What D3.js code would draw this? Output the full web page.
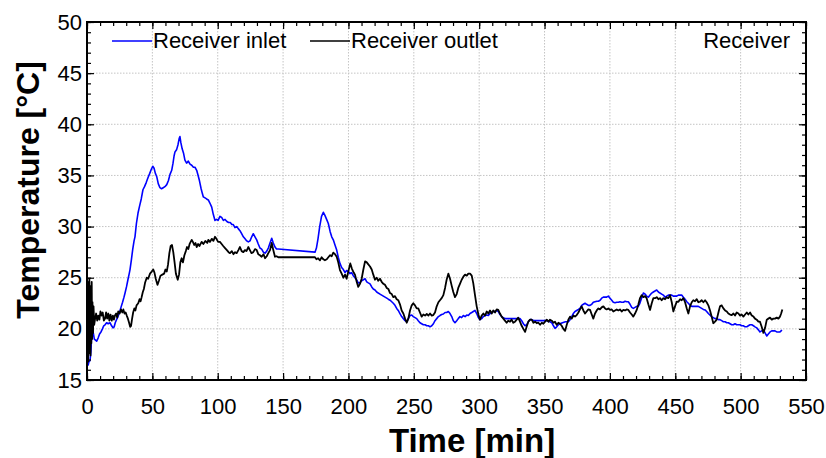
<!DOCTYPE html>
<html>
<head>
<meta charset="utf-8">
<script src="https://cdn.jsdelivr.net/npm/d3@7"></script>
<style>
  body { margin: 0; background: #fff; }
  text { font-family: Arial, "Liberation Sans", sans-serif; fill: #000; }
</style>
</head>
<body>
<svg id="chart" width="826" height="458"></svg>
<script>
// Axis ticks and labels
const xMajorTicks = [0, 50, 100, 150, 200, 250, 300, 350, 400, 450, 500, 550];
const yMajorTicks = [15, 20, 25, 30, 35, 40, 45, 50];
const xTitle = "Time [min]";
const yTitle = "Temperature [°C]";
const seriesNames = ["Receiver inlet", "Receiver outlet"];
const panelLabel = "Receiver";

// Receiver inlet temperature [min, °C]
const inlet = [
[0.8,16.4],[1.5,16.8],[2.3,16.9],[3.0,17.8],[3.6,19.5],[4.2,20.2],[4.8,19.6],[5.6,19.0],[6.5,18.9],[7.4,18.8],[8.5,19.1],[9.6,19.5],[10.7,19.7],[11.8,20.0],[12.8,20.3],[13.8,20.4],[15.0,20.6],[16.2,20.5],[17.6,20.6],[18.8,20.3],[19.9,20.1],[20.8,20.2],[21.6,20.6],[22.6,20.9],[23.7,21.2],[24.8,21.6],[26.0,22.1],[27.2,22.6],[28.3,23.1],[29.1,23.5],[30.2,24.1],[31.3,24.8],[32.3,25.4],[32.9,25.8],[34.0,26.8],[35.0,27.8],[36.0,28.6],[36.7,29.0],[37.8,30.3],[39.0,31.3],[40.2,32.0],[41.5,32.7],[42.8,33.6],[44.0,33.9],[45.3,34.3],[46.7,34.8],[48.0,35.2],[49.2,35.6],[50.3,35.9],[51.3,35.7],[52.3,35.2],[53.3,34.9],[54.5,34.2],[55.8,33.8],[57.0,33.7],[58.3,33.8],[59.6,33.9],[61.0,34.1],[62.3,34.5],[63.5,35.1],[64.8,35.5],[65.8,36.2],[66.6,36.9],[67.3,37.3],[68.5,37.5],[69.6,38.0],[70.5,38.6],[71.1,38.8],[71.8,38.2],[72.8,37.6],[73.8,37.2],[74.9,36.5],[76.2,36.2],[77.5,36.4],[78.8,36.1],[80.1,36.0],[81.4,35.8],[82.6,35.8],[83.9,35.5],[85.0,35.0],[86.0,34.5],[87.3,33.7],[88.3,33.2],[89.0,32.9],[90.3,32.8],[91.5,32.7],[92.8,32.6],[94.0,32.3],[95.4,31.9],[96.6,31.2],[97.9,30.6],[99.0,30.7],[100.3,30.6],[101.7,31.0],[103.0,30.9],[104.3,30.6],[105.6,30.7],[107.0,30.5],[108.3,30.4],[109.6,30.4],[110.8,30.2],[111.9,30.2],[113.2,29.9],[114.5,30.0],[115.7,29.8],[117.0,29.6],[118.3,29.3],[119.6,29.0],[120.9,28.8],[122.2,28.6],[123.4,28.5],[124.7,28.6],[126.0,29.0],[127.2,29.3],[128.5,29.0],[129.8,28.7],[131.0,28.3],[132.3,27.9],[133.6,27.8],[134.9,27.5],[136.2,27.4],[137.5,27.6],[138.7,27.9],[140.0,28.4],[141.3,28.85],[142.5,28.4],[143.8,28.0],[145.0,27.8],[146.3,27.8],[174.4,27.5],[175.5,27.9],[176.7,28.8],[178.0,30.0],[179.4,31.0],[180.8,31.4],[182.0,31.1],[183.3,30.7],[184.6,30.3],[186.0,29.5],[187.2,29.0],[188.4,28.7],[189.7,28.2],[191.0,27.7],[192.2,27.0],[193.5,26.4],[194.8,26.0],[196.1,25.8],[197.4,25.5],[198.6,25.7],[199.9,25.6],[201.2,25.4],[202.4,25.5],[203.7,25.2],[205.0,25.0],[206.2,24.8],[207.5,24.5],[208.8,24.5],[210.1,24.7],[211.4,24.8],[212.7,24.9],[214.0,24.6],[215.2,24.5],[216.5,24.4],[217.8,24.1],[219.0,23.9],[220.3,23.8],[221.6,23.6],[222.8,23.5],[224.1,23.4],[225.4,23.3],[226.7,23.2],[228.0,23.1],[229.3,23.0],[230.5,22.9],[231.8,22.8],[233.1,22.65],[234.3,22.5],[235.6,22.3],[236.9,22.0],[238.1,21.8],[239.4,21.5],[240.7,21.2],[242.0,21.0],[243.3,20.8],[244.6,20.7],[245.8,21.0],[247.1,21.3],[248.4,21.35],[249.6,21.2],[250.9,21.1],[252.2,21.0],[253.4,20.8],[254.7,20.6],[256.0,20.5],[257.3,20.4],[258.6,20.4],[259.9,20.3],[261.2,20.3],[262.4,20.2],[263.7,20.3],[265.0,20.5],[266.2,20.8],[267.5,21.0],[268.8,21.2],[270.0,21.3],[271.3,21.4],[272.6,21.45],[273.9,21.6],[275.1,21.6],[276.4,21.7],[277.7,21.5],[279.0,21.2],[280.2,20.8],[281.5,20.6],[282.8,20.8],[284.0,21.0],[285.3,21.2],[286.6,21.1],[287.9,21.3],[289.2,21.2],[290.5,21.35],[291.7,21.3],[293.0,21.5],[294.3,21.6],[295.5,21.7],[296.8,21.8],[298.1,21.5],[299.4,21.1],[300.6,20.9],[301.9,21.0],[303.2,21.2],[304.5,21.3],[305.8,21.35],[307.0,21.3],[308.3,21.5],[309.6,21.6],[310.8,21.7],[312.1,21.7],[313.4,21.8],[314.6,21.7],[315.9,21.4],[317.2,21.2],[318.5,21.1],[320.0,21.0],[322.3,21.0],[325.0,21.0],[327.4,21.0],[329.9,21.0],[331.2,21.0],[332.5,20.8],[333.8,20.5],[335.1,20.3],[336.3,20.4],[337.6,20.7],[338.9,20.9],[340.2,20.9],[342.0,20.8],[344.0,20.8],[346.0,20.8],[349.1,20.8],[351.7,20.8],[354.2,20.7],[355.5,20.6],[356.8,20.3],[358.0,20.05],[359.3,20.2],[360.6,20.4],[361.8,20.5],[363.7,20.6],[366.0,20.7],[368.2,20.7],[369.5,20.9],[370.8,21.2],[372.0,21.5],[373.3,21.7],[374.6,21.8],[375.9,21.9],[377.1,22.0],[378.4,22.3],[379.7,22.4],[381.0,22.5],[382.2,22.4],[383.5,22.3],[384.8,22.3],[386.1,22.4],[387.3,22.6],[388.6,22.65],[390.0,22.7],[391.2,22.7],[392.5,22.8],[393.7,23.0],[395.0,23.1],[396.3,23.1],[397.5,23.1],[398.8,23.2],[400.1,23.0],[401.4,22.8],[402.6,22.6],[403.9,22.55],[405.2,22.6],[406.5,22.6],[407.7,22.65],[409.0,22.6],[410.3,22.6],[411.6,22.7],[412.8,22.65],[414.1,22.65],[415.4,22.4],[416.7,22.1],[417.9,22.0],[419.2,22.1],[420.5,22.2],[421.7,22.2],[422.9,22.5],[424.2,23.0],[425.6,23.5],[426.9,23.4],[428.1,23.2],[429.4,23.1],[430.7,23.3],[432.0,23.5],[433.2,23.6],[434.5,23.7],[435.8,23.8],[437.1,23.6],[438.3,23.5],[439.6,23.4],[440.9,23.3],[442.2,23.1],[443.4,23.2],[444.7,23.3],[446.0,23.3],[447.3,23.3],[448.5,23.2],[449.8,23.2],[451.1,23.2],[452.4,23.3],[453.7,23.3],[454.9,23.3],[456.2,23.1],[457.5,22.9],[458.8,22.65],[460.0,22.5],[461.3,22.3],[462.6,22.2],[463.8,22.2],[465.1,22.2],[466.4,22.2],[467.6,22.2],[468.9,22.1],[470.2,22.0],[471.5,21.9],[472.8,21.85],[474.0,21.7],[475.3,21.5],[476.6,21.35],[477.8,21.2],[479.1,21.1],[480.4,21.0],[481.7,21.0],[483.0,20.9],[484.2,20.9],[485.5,20.8],[486.8,20.7],[488.1,20.7],[489.4,20.6],[490.6,20.6],[491.9,20.5],[493.2,20.4],[494.4,20.4],[495.7,20.5],[497.0,20.4],[498.3,20.4],[499.5,20.4],[500.8,20.3],[502.1,20.3],[503.4,20.2],[504.7,20.2],[505.9,20.3],[507.2,20.4],[508.5,20.4],[509.8,20.3],[511.0,20.2],[512.3,20.1],[513.6,19.9],[514.8,19.7],[516.1,19.8],[517.4,19.9],[518.7,19.6],[520.0,19.3],[521.2,19.5],[522.5,19.7],[523.8,19.8],[525.0,19.8],[526.3,19.8],[527.6,19.7],[528.9,19.7],[530.1,19.7],[531.0,19.8],[531.5,19.9]
];

// Receiver outlet temperature [min, °C]
const outlet = [
[0.3,17.0],[0.6,24.6],[0.9,16.8],[1.2,23.8],[1.5,17.6],[1.8,24.9],[2.1,18.2],[2.4,24.2],[2.7,17.4],[3.0,23.0],[3.3,18.6],[3.6,24.6],[3.9,19.0],[4.2,22.6],[4.6,19.6],[5.0,22.2],[5.5,20.4],[6.1,20.9],[7.0,21.5],[7.8,20.8],[8.6,21.3],[9.5,20.9],[10.3,21.7],[11.2,21.3],[12.0,21.6],[12.9,20.8],[13.8,21.0],[14.6,21.6],[15.4,21.0],[16.3,21.5],[17.1,20.8],[18.0,21.4],[18.9,20.8],[19.8,21.3],[20.6,20.9],[21.4,21.3],[22.3,21.5],[23.1,21.1],[23.9,21.7],[25.0,21.5],[26.0,21.9],[27.0,21.6],[27.8,21.9],[28.7,21.5],[29.6,21.6],[30.4,21.3],[31.3,21.0],[32.2,20.6],[33.0,20.2],[33.7,20.3],[34.5,21.0],[35.3,21.6],[36.2,22.0],[37.0,21.8],[37.9,22.3],[39.2,22.5],[40.2,22.9],[41.0,22.7],[41.8,23.1],[42.7,23.6],[43.5,23.9],[44.4,24.5],[45.7,25.0],[46.8,24.9],[48.2,25.4],[49.5,25.6],[50.7,25.8],[51.6,25.5],[52.6,24.9],[53.9,24.3],[55.0,24.7],[56.2,25.2],[57.6,25.3],[59.0,25.4],[60.0,25.8],[61.0,25.6],[62.0,26.3],[63.0,27.4],[64.0,28.1],[65.0,28.2],[66.0,27.5],[67.0,26.5],[68.0,25.4],[69.4,24.8],[70.4,25.3],[71.4,26.5],[72.4,26.9],[73.4,26.5],[74.5,27.2],[75.6,27.6],[76.5,28.0],[77.5,27.8],[78.5,28.3],[80.1,28.7],[81.0,28.5],[82.0,28.2],[83.0,28.4],[83.9,28.0],[85.0,28.3],[86.0,28.1],[87.7,28.5],[89.0,28.3],[90.5,28.6],[92.0,28.4],[92.8,28.7],[94.0,28.5],[95.5,28.8],[96.7,28.6],[97.9,29.0],[99.0,28.8],[100.3,28.5],[101.7,28.5],[103.0,28.3],[104.2,28.1],[105.6,27.9],[107.0,27.7],[108.3,27.5],[109.4,27.4],[110.8,27.6],[112.0,27.3],[113.3,27.5],[114.5,27.4],[115.8,27.7],[117.0,28.0],[118.3,27.6],[119.6,27.5],[120.8,27.7],[122.0,27.6],[123.4,28.0],[124.6,27.7],[125.8,27.4],[127.2,27.5],[128.5,27.8],[129.8,27.7],[131.0,27.3],[132.3,27.2],[133.6,27.05],[135.0,27.3],[136.2,26.9],[137.5,27.1],[138.7,27.4],[140.0,27.7],[141.3,28.4],[142.5,27.7],[143.8,27.05],[145.0,27.1],[146.3,27.0],[174.4,27.0],[175.5,26.8],[176.8,26.9],[178.2,26.7],[179.5,27.0],[180.8,26.8],[182.0,26.7],[183.4,26.8],[184.6,27.0],[186.0,27.2],[187.2,27.1],[188.4,27.45],[189.7,27.3],[191.0,27.05],[192.2,26.5],[193.5,25.75],[194.8,25.4],[196.1,25.0],[197.4,25.3],[198.6,24.9],[199.9,25.6],[201.4,26.4],[202.6,25.9],[204.0,25.5],[205.0,25.3],[206.3,24.6],[207.5,24.1],[208.8,24.4],[210.1,24.9],[211.4,25.8],[212.7,26.6],[214.0,26.5],[215.2,26.3],[216.5,26.1],[217.8,25.8],[219.0,25.3],[220.3,24.8],[221.6,25.0],[222.8,24.7],[224.1,24.9],[225.4,24.6],[226.7,24.4],[228.0,24.3],[229.3,24.0],[230.5,23.9],[231.8,23.5],[233.1,23.4],[234.3,23.1],[235.6,23.2],[236.9,22.9],[238.1,22.8],[239.4,22.4],[240.7,21.8],[242.0,21.5],[243.3,21.0],[244.6,20.6],[245.8,21.0],[247.1,21.8],[248.4,22.3],[249.6,22.5],[250.9,22.3],[252.2,22.0],[253.4,22.0],[254.7,21.6],[256.0,21.2],[257.3,21.4],[258.6,21.3],[259.9,21.45],[261.2,21.3],[262.4,21.5],[263.7,21.3],[264.9,21.35],[266.2,21.6],[267.5,22.2],[268.8,22.6],[270.0,22.8],[271.3,23.0],[272.6,23.3],[273.9,24.0],[275.1,24.8],[276.4,25.4],[277.7,24.9],[279.0,24.2],[280.2,23.6],[281.5,23.1],[282.8,23.4],[284.0,24.0],[285.3,24.4],[286.6,24.8],[287.9,25.1],[289.2,25.3],[290.5,25.2],[291.7,25.4],[293.0,25.4],[294.3,25.2],[295.5,24.45],[296.8,23.3],[298.1,22.2],[299.4,21.4],[300.6,20.9],[301.9,21.3],[303.2,21.5],[304.5,21.3],[305.8,21.7],[307.0,21.5],[308.3,21.8],[309.6,21.5],[310.8,21.8],[312.1,21.6],[313.4,21.9],[314.6,21.85],[315.9,21.5],[317.2,21.2],[318.5,21.0],[319.7,20.8],[321.0,20.6],[322.3,20.8],[323.6,20.7],[324.8,20.9],[326.1,20.6],[327.4,20.7],[328.7,20.9],[329.9,21.1],[331.2,20.7],[332.5,20.3],[333.8,20.0],[335.1,19.7],[336.3,20.2],[337.6,20.7],[338.9,20.9],[340.2,20.9],[341.5,20.6],[342.8,20.7],[344.0,20.55],[345.3,20.6],[346.6,20.4],[347.9,20.6],[349.1,20.5],[350.4,20.7],[351.7,20.9],[353.0,20.7],[354.2,20.9],[355.5,20.8],[356.8,20.6],[358.0,20.7],[359.3,20.4],[360.6,20.6],[361.8,20.5],[363.1,20.3],[364.4,20.0],[365.7,19.8],[367.0,20.4],[368.2,20.9],[369.5,21.2],[370.8,21.0],[372.1,21.3],[373.3,21.2],[374.6,21.35],[375.9,21.6],[377.1,21.9],[378.4,22.2],[379.7,21.8],[381.0,21.5],[382.2,21.7],[383.5,21.9],[384.8,21.85],[386.1,21.4],[387.3,21.0],[388.6,21.5],[389.9,21.8],[391.2,22.0],[392.4,21.9],[393.7,22.1],[395.0,22.2],[396.3,22.0],[397.5,21.9],[398.8,22.0],[400.1,21.85],[401.4,21.9],[402.6,21.7],[403.9,21.8],[405.2,21.9],[406.5,21.8],[407.7,21.9],[409.0,21.7],[410.3,21.85],[411.6,21.8],[412.8,21.9],[414.1,21.85],[415.4,21.6],[416.7,21.4],[417.9,21.2],[419.2,21.5],[420.5,21.85],[421.8,22.4],[423.0,23.0],[424.3,23.3],[425.6,23.1],[426.9,23.2],[428.1,23.0],[429.4,22.4],[430.7,21.85],[432.0,22.5],[433.2,23.0],[434.5,23.0],[435.8,23.1],[437.1,22.9],[438.3,23.0],[439.6,22.8],[440.9,23.0],[442.2,22.9],[443.4,23.1],[444.7,23.0],[446.0,23.3],[447.3,22.6],[448.5,21.7],[449.8,22.2],[451.1,22.65],[452.4,22.65],[453.7,22.9],[454.9,22.8],[456.2,23.0],[457.5,22.6],[458.8,22.0],[460.0,21.5],[461.3,22.2],[462.6,22.6],[463.8,22.8],[465.1,22.7],[466.4,22.9],[467.7,22.6],[468.9,22.65],[470.2,22.8],[471.5,22.6],[472.8,22.8],[474.0,22.6],[475.3,22.3],[476.6,21.8],[477.8,21.2],[479.1,20.55],[480.4,20.7],[481.7,20.9],[483.0,21.6],[484.2,22.2],[485.5,22.3],[486.8,22.0],[488.1,21.8],[489.4,21.7],[490.6,21.5],[491.9,21.4],[493.2,21.35],[494.5,21.5],[495.7,21.3],[497.0,21.6],[498.3,21.5],[499.6,21.3],[500.8,21.4],[502.1,21.2],[503.4,21.4],[504.7,21.6],[505.9,21.4],[507.2,21.6],[508.5,21.3],[509.8,21.2],[511.0,21.0],[512.3,20.9],[513.6,20.7],[514.8,20.7],[516.1,20.2],[517.4,19.6],[518.7,20.1],[520.0,20.9],[521.2,21.0],[522.5,21.1],[523.8,20.9],[525.0,21.0],[526.3,21.0],[527.6,21.1],[528.9,21.0],[530.1,21.2],[531.0,21.5],[531.9,21.9]
];

const seriesColors = ["#0000ff", "#000000"];

const svg = d3.select("#chart");
const plot = { left: 87, top: 22, right: 806, bottom: 380 };

const x = d3.scaleLinear().domain([0, 550]).range([plot.left, plot.right]);
const y = d3.scaleLinear().domain([15, 50]).range([plot.bottom, plot.top]);

const xMinor = d3.range(0, 551, 10);
const yMinor = d3.range(15, 51, 1);

// Dotted grid at interior major ticks
const grid = svg.append("g").attr("stroke", "#c4c4c4").attr("stroke-width", 1).attr("stroke-dasharray", "1.5,1.5");
grid.selectAll("line.gx").data(xMajorTicks.slice(1, -1)).join("line")
  .attr("x1", d => x(d)).attr("x2", d => x(d))
  .attr("y1", plot.top).attr("y2", plot.bottom);
grid.selectAll("line.gy").data(yMajorTicks.slice(1, -1)).join("line")
  .attr("x1", plot.left).attr("x2", plot.right)
  .attr("y1", d => y(d)).attr("y2", d => y(d));

// Data lines
const line = d3.line().x(d => x(d[0])).y(d => y(d[1]));
svg.append("path").datum(inlet).attr("fill", "none")
  .attr("stroke", seriesColors[0]).attr("stroke-width", 1.6).attr("stroke-linejoin", "round").attr("d", line);
svg.append("path").datum(outlet).attr("fill", "none")
  .attr("stroke", seriesColors[1]).attr("stroke-width", 1.8).attr("stroke-linejoin", "round").attr("d", line);

// Axes with inward ticks on all four sides
function styleAxis(g) {
  g.select(".domain").remove();
  g.selectAll(".tick line").attr("stroke", "#000").attr("stroke-width", 1.2);
}
const fmt = d3.format("d");

svg.append("g").attr("transform", `translate(0,${plot.bottom})`)
  .call(d3.axisBottom(x).tickValues(xMinor).tickSize(-4).tickFormat(""))
  .call(styleAxis);
svg.append("g").attr("transform", `translate(0,${plot.bottom})`)
  .call(d3.axisBottom(x).tickValues(xMajorTicks).tickSize(-7).tickPadding(18).tickFormat(fmt))
  .call(styleAxis)
  .call(g => g.selectAll("text").attr("font-size", 22).attr("font-family", "Arial, 'Liberation Sans', sans-serif"));

svg.append("g").attr("transform", `translate(0,${plot.top})`)
  .call(d3.axisTop(x).tickValues(xMinor).tickSize(-4).tickFormat(""))
  .call(styleAxis);
svg.append("g").attr("transform", `translate(0,${plot.top})`)
  .call(d3.axisTop(x).tickValues(xMajorTicks).tickSize(-7).tickFormat(""))
  .call(styleAxis);

svg.append("g").attr("transform", `translate(${plot.left},0)`)
  .call(d3.axisLeft(y).tickValues(yMinor).tickSize(-4).tickFormat(""))
  .call(styleAxis);
svg.append("g").attr("transform", `translate(${plot.left},0)`)
  .call(d3.axisLeft(y).tickValues(yMajorTicks).tickSize(-7).tickPadding(5).tickFormat(fmt))
  .call(styleAxis)
  .call(g => g.selectAll("text").attr("font-size", 22).attr("font-family", "Arial, 'Liberation Sans', sans-serif"));

svg.append("g").attr("transform", `translate(${plot.right},0)`)
  .call(d3.axisRight(y).tickValues(yMinor).tickSize(-4).tickFormat(""))
  .call(styleAxis);
svg.append("g").attr("transform", `translate(${plot.right},0)`)
  .call(d3.axisRight(y).tickValues(yMajorTicks).tickSize(-7).tickFormat(""))
  .call(styleAxis);

// Frame
svg.append("rect")
  .attr("x", plot.left).attr("y", plot.top)
  .attr("width", plot.right - plot.left).attr("height", plot.bottom - plot.top)
  .attr("fill", "none").attr("stroke", "#000").attr("stroke-width", 2);

// Legend
const legendX = [112, 310];
seriesNames.forEach((name, i) => {
  svg.append("line")
    .attr("x1", legendX[i]).attr("x2", legendX[i] + 40)
    .attr("y1", 41).attr("y2", 41)
    .attr("stroke", seriesColors[i]).attr("stroke-width", 1.5);
  svg.append("text")
    .attr("x", legendX[i] + 41).attr("y", 48)
    .attr("font-size", 22)
    .text(name);
});
svg.append("text")
  .attr("x", 790).attr("y", 48)
  .attr("text-anchor", "end")
  .attr("font-size", 22)
  .text(panelLabel);

// Axis titles
svg.append("text")
  .attr("x", 472).attr("y", 452)
  .attr("text-anchor", "middle")
  .attr("font-size", 33).attr("font-weight", "bold")
  .text(xTitle);
svg.append("text")
  .attr("transform", "translate(38.5,190) rotate(-90)")
  .attr("text-anchor", "middle")
  .attr("font-size", 32).attr("font-weight", "bold")
  .text(yTitle);
</script>
</body>
</html>
